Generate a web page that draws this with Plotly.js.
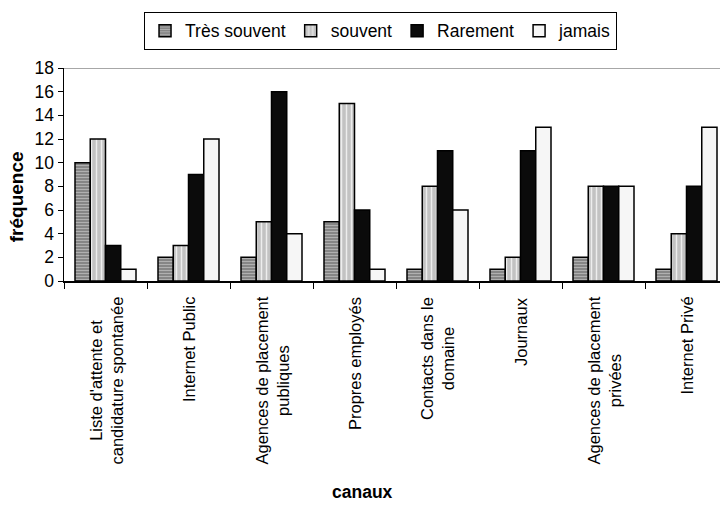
<!DOCTYPE html>
<html>
<head>
<meta charset="utf-8">
<script src="https://cdn.plot.ly/plotly-3.0.1.min.js"></script>
<style>
html, body { margin: 0; padding: 0; overflow: hidden; background: #fff; }
#chart { width: 740px; height: 507px; }
</style>
</head>
<body>
<div id="chart"></div>
<script>
// ---- Data ----
const categories = [
  "Liste d'attente et<br>candidature spontanée",
  "Internet Public",
  "Agences de placement<br>publiques",
  "Propres employés",
  "Contacts dans le<br>domaine",
  "Journaux",
  "Agences de placement<br>privées",
  "Internet Privé"
];
const seriesNames = ["Très souvent", "souvent", "Rarement", "jamais"];
const tresSouvent = [10, 2, 2, 5, 1, 1, 2, 1];
const souvent     = [12, 3, 5, 15, 8, 2, 8, 4];
const rarement    = [3, 9, 16, 6, 11, 11, 8, 8];
const jamais      = [1, 12, 4, 1, 6, 13, 8, 13];
const yTicks = [0, 2, 4, 6, 8, 10, 12, 14, 16, 18];
const xTitle = "canaux";
const yTitle = "fréquence";

// ---- Styles ----
const FONT = "Liberation Sans, Arial, Helvetica, sans-serif";
const outline = { color: "#000", width: 1.5 };

const traces = [
  {
    type: "bar", name: seriesNames[0], x: categories, y: tresSouvent,
    marker: { color: "#858585", line: outline,
      pattern: { shape: "-", bgcolor: "#828282", fgcolor: "#b0b0b0", size: 3, solidity: 0.4 } }
  },
  {
    type: "bar", name: seriesNames[1], x: categories, y: souvent,
    marker: { color: "#c4c4c4", line: outline,
      pattern: { shape: "|", bgcolor: "#c2c2c2", fgcolor: "#ededed", size: 5, solidity: 0.3 } }
  },
  {
    type: "bar", name: seriesNames[2], x: categories, y: rarement,
    marker: { color: "#0b0b0b", line: outline }
  },
  {
    type: "bar", name: seriesNames[3], x: categories, y: jamais,
    marker: { color: "#f6f6f6", line: outline }
  }
];

const annotations = categories.map(c => ({
  xref: "x", yref: "paper", x: c, y: 0, yshift: -14,
  xanchor: "center", yanchor: "top", textangle: -90, align: "center",
  text: c, showarrow: false, font: { family: FONT, size: 16.5, color: "#000" }
}));
annotations.push({
  xref: "paper", yref: "paper", x: 0.450, y: -0.991,
  xanchor: "center", yanchor: "middle", showarrow: false,
  text: "<b>" + xTitle + "</b>", font: { family: FONT, size: 17.5, color: "#000" }
});
annotations.push({
  xref: "paper", yref: "paper", x: -0.0723, y: 0.398,
  xanchor: "center", yanchor: "middle", textangle: -90, showarrow: false,
  text: "<b>" + yTitle + "</b>", font: { family: FONT, size: 19, color: "#000" }
});

const layout = {
  width: 740, height: 507,
  margin: { l: 64, r: 12, t: 65, b: 226, pad: 0 },
  paper_bgcolor: "#fff", plot_bgcolor: "#fff",
  font: { family: FONT, color: "#000" },
  barmode: "group", bargap: 0.265, bargroupgap: 0,
  showlegend: true,
  legend: {
    orientation: "h", x: 0.4767, xanchor: "center", y: 1.264, yanchor: "top",
    bordercolor: "#000", borderwidth: 1, bgcolor: "#fff",
    font: { family: FONT, size: 17.5, color: "#000" },
    itemwidth: 30, traceorder: "normal"
  },
  xaxis: {
    type: "category", showticklabels: false, tickson: "boundaries",
    ticks: "outside", ticklen: 6, tickwidth: 1, tickcolor: "#000",
    showline: true, linecolor: "#000", linewidth: 1.5,
    showgrid: false, zeroline: false, fixedrange: true
  },
  yaxis: {
    range: [0, 18], tickvals: yTicks, ticktext: yTicks.map(String),
    ticks: "outside", ticklen: 5, tickwidth: 1, tickcolor: "#000",
    showline: true, linecolor: "#000", linewidth: 1.5,
    showgrid: false, zeroline: false,
    tickfont: { family: FONT, size: 17.5, color: "#000" }, fixedrange: true
  },
  shapes: [{
    type: "line", xref: "paper", yref: "y", x0: 0, x1: 1, y0: 18, y1: 18,
    line: { color: "#8a8a8a", width: 1.5 }
  }],
  annotations: annotations
};

Plotly.newPlot("chart", traces, layout, { staticPlot: true, displayModeBar: false });
</script>
</body>
</html>
